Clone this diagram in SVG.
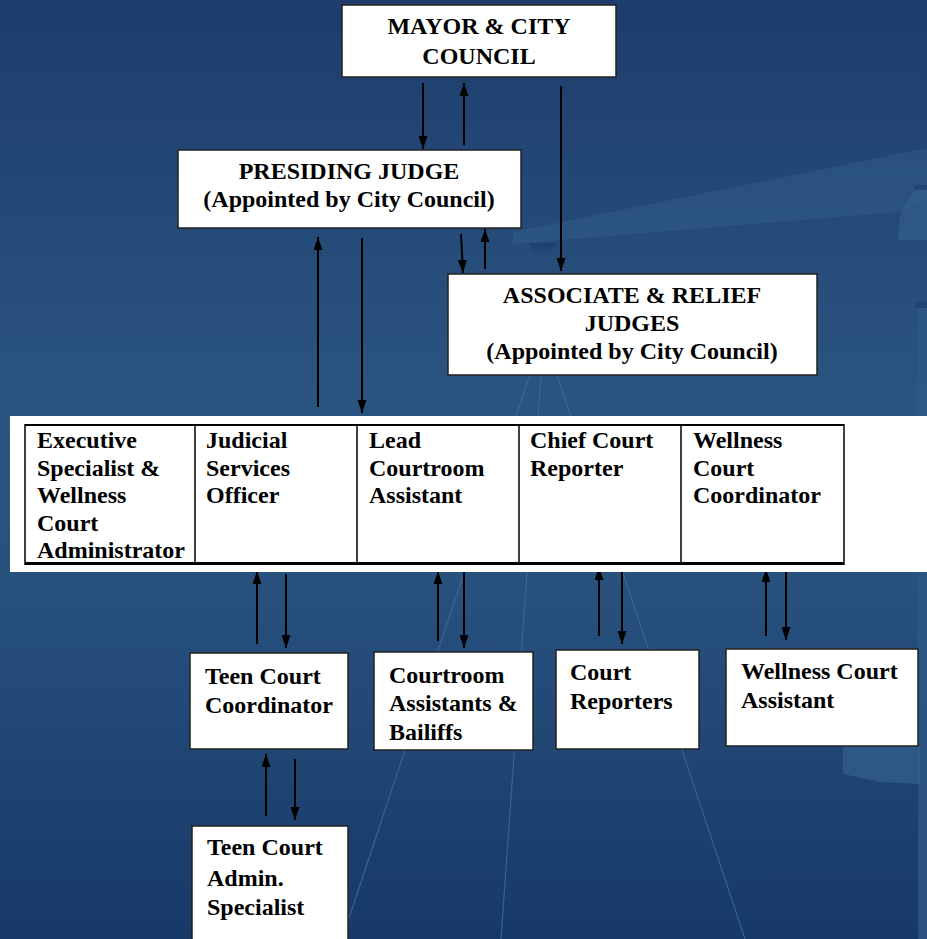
<svg xmlns="http://www.w3.org/2000/svg" width="927" height="939" viewBox="0 0 927 939">
<defs>
<linearGradient id="bg" x1="0" y1="0" x2="0" y2="1">
<stop offset="0" stop-color="#1d3d6c"/>
<stop offset="0.42" stop-color="#2b5481"/>
<stop offset="0.62" stop-color="#28517e"/>
<stop offset="1" stop-color="#173968"/>
</linearGradient>
<linearGradient id="funnel" x1="0" y1="0" x2="0" y2="1">
<stop offset="0" stop-color="#1b4070"/>
<stop offset="1" stop-color="#2a5380" stop-opacity="0"/>
</linearGradient>
<marker id="ah" viewBox="0 0 13 9" refX="13" refY="4.5" markerWidth="13" markerHeight="9" markerUnits="userSpaceOnUse" orient="auto">
<path d="M0,0 L13,4.5 L0,9 z" fill="#000"/>
</marker>
<style>
.box{fill:#fff;stroke:#222;stroke-width:1.5}
.t{font-family:"Liberation Serif","Times New Roman",serif;font-weight:bold;font-size:24px;fill:#000}
.c{text-anchor:middle}
.arr{stroke:#000;stroke-width:2;fill:none;marker-end:url(#ah)}
.deco{stroke:#3c6a97;stroke-width:1.2;fill:none;opacity:0.85}
</style>
</defs>
<g id="background">
<rect x="0" y="0" width="927" height="939" fill="url(#bg)"/>
<polygon points="513,232 927,148 927,198 900,212 513,244" fill="#3a6793" opacity="0.35"/>
<polygon points="530,243 556,243 547,266 540,268" fill="url(#funnel)"/>
<polygon points="917,187 927,187 927,240 898,240 900,215" fill="#35608d" opacity="0.6"/>
<rect x="915" y="185" width="12" height="5" fill="#1c4070" opacity="0.7"/>
<rect x="915" y="302" width="12" height="6" fill="#1c4070" opacity="0.7"/>
<rect x="918" y="308" width="9" height="631" fill="#2e5887" opacity="0.8"/>
<polygon points="843,746 920,746 920,784 880,782 843,774" fill="#33608d" opacity="0.7"/>
<line class="deco" x1="530" y1="375" x2="342" y2="939"/>
<line class="deco" x1="541" y1="375" x2="501" y2="939"/>
<line class="deco" x1="557" y1="375" x2="745" y2="939"/>
</g>
<g id="connectors">
<line class="arr" x1="423" y1="83" x2="423" y2="149"/>
<line class="arr" x1="464" y1="145" x2="464" y2="83"/>
<line class="arr" x1="561" y1="86" x2="561" y2="271"/>
<line class="arr" x1="461" y1="234" x2="463" y2="273"/>
<line class="arr" x1="485" y1="269" x2="485" y2="229"/>
<line class="arr" x1="318" y1="407" x2="318" y2="237"/>
<line class="arr" x1="362" y1="238" x2="362" y2="413"/>
<line class="arr" x1="257" y1="644" x2="257" y2="571"/>
<line class="arr" x1="286" y1="574" x2="286" y2="648"/>
<line class="arr" x1="438" y1="641" x2="438" y2="571"/>
<line class="arr" x1="464" y1="570" x2="464" y2="648"/>
<line class="arr" x1="599" y1="636" x2="599" y2="567"/>
<line class="arr" x1="622" y1="571" x2="622" y2="644"/>
<line class="arr" x1="766" y1="636" x2="766" y2="569"/>
<line class="arr" x1="786" y1="570" x2="786" y2="640"/>
<line class="arr" x1="266" y1="816" x2="266" y2="754"/>
<line class="arr" x1="295" y1="759" x2="295" y2="820"/>
</g>
<g id="mayor">
<rect class="box" x="342" y="5" width="274" height="72"/>
<text class="t c" x="479" y="34">MAYOR &amp; CITY</text>
<text class="t c" x="479" y="64">COUNCIL</text>
</g>
<g id="presiding">
<rect class="box" x="178" y="150" width="343" height="78"/>
<text class="t c" x="349" y="179">PRESIDING JUDGE</text>
<text class="t c" x="349" y="207">(Appointed by City Council)</text>
</g>
<g id="associate">
<rect class="box" x="448" y="274" width="369" height="101"/>
<text class="t c" x="632" y="303">ASSOCIATE &amp; RELIEF</text>
<text class="t c" x="632" y="331">JUDGES</text>
<text class="t c" x="632" y="359">(Appointed by City Council)</text>
</g>
<g id="staff-band">
<rect x="10" y="416" width="917" height="156" fill="#fff"/>
<line x1="25" y1="425" x2="844" y2="425" stroke="#000" stroke-width="2"/>
<line x1="25" y1="563.5" x2="844" y2="563.5" stroke="#000" stroke-width="3"/>
<line x1="25" y1="424" x2="25" y2="565" stroke="#000" stroke-width="1.5"/>
<line x1="844" y1="424" x2="844" y2="565" stroke="#000" stroke-width="1.5"/>
</g>
<g id="exec-specialist">
<line x1="195" y1="425" x2="195" y2="563" stroke="#000" stroke-width="1.5"/>
<text class="t" x="37" y="448">Executive</text>
<text class="t" x="37" y="475.5">Specialist &amp;</text>
<text class="t" x="37" y="503">Wellness</text>
<text class="t" x="37" y="530.5">Court</text>
<text class="t" x="37" y="558">Administrator</text>
</g>
<g id="judicial-services">
<line x1="357" y1="425" x2="357" y2="563" stroke="#000" stroke-width="1.5"/>
<text class="t" x="206" y="448">Judicial</text>
<text class="t" x="206" y="475.5">Services</text>
<text class="t" x="206" y="503">Officer</text>
</g>
<g id="lead-courtroom">
<line x1="519" y1="425" x2="519" y2="563" stroke="#000" stroke-width="1.5"/>
<text class="t" x="369" y="448">Lead</text>
<text class="t" x="369" y="475.5">Courtroom</text>
<text class="t" x="369" y="503">Assistant</text>
</g>
<g id="chief-reporter">
<line x1="681" y1="425" x2="681" y2="563" stroke="#000" stroke-width="1.5"/>
<text class="t" x="530" y="448">Chief Court</text>
<text class="t" x="530" y="475.5">Reporter</text>
</g>
<g id="wellness-coordinator">
<text class="t" x="693" y="448">Wellness</text>
<text class="t" x="693" y="475.5">Court</text>
<text class="t" x="693" y="503">Coordinator</text>
</g>
<g id="teen-coordinator">
<rect class="box" x="190" y="653" width="158" height="96"/>
<text class="t" x="205" y="683.5">Teen Court</text>
<text class="t" x="205" y="713">Coordinator</text>
</g>
<g id="courtroom-assistants">
<rect class="box" x="374" y="652" width="159" height="98"/>
<text class="t" x="389" y="682.5">Courtroom</text>
<text class="t" x="389" y="711">Assistants &amp;</text>
<text class="t" x="389" y="740">Bailiffs</text>
</g>
<g id="court-reporters">
<rect class="box" x="556" y="650" width="143" height="99"/>
<text class="t" x="570" y="680">Court</text>
<text class="t" x="570" y="709">Reporters</text>
</g>
<g id="wellness-assistant">
<rect class="box" x="726" y="649" width="192" height="97"/>
<text class="t" x="741" y="679">Wellness Court</text>
<text class="t" x="741" y="707.5">Assistant</text>
</g>
<g id="teen-admin">
<rect class="box" x="192" y="826" width="156" height="120"/>
<text class="t" x="207" y="855">Teen Court</text>
<text class="t" x="207" y="885.5">Admin.</text>
<text class="t" x="207" y="915">Specialist</text>
</g>
</svg>
